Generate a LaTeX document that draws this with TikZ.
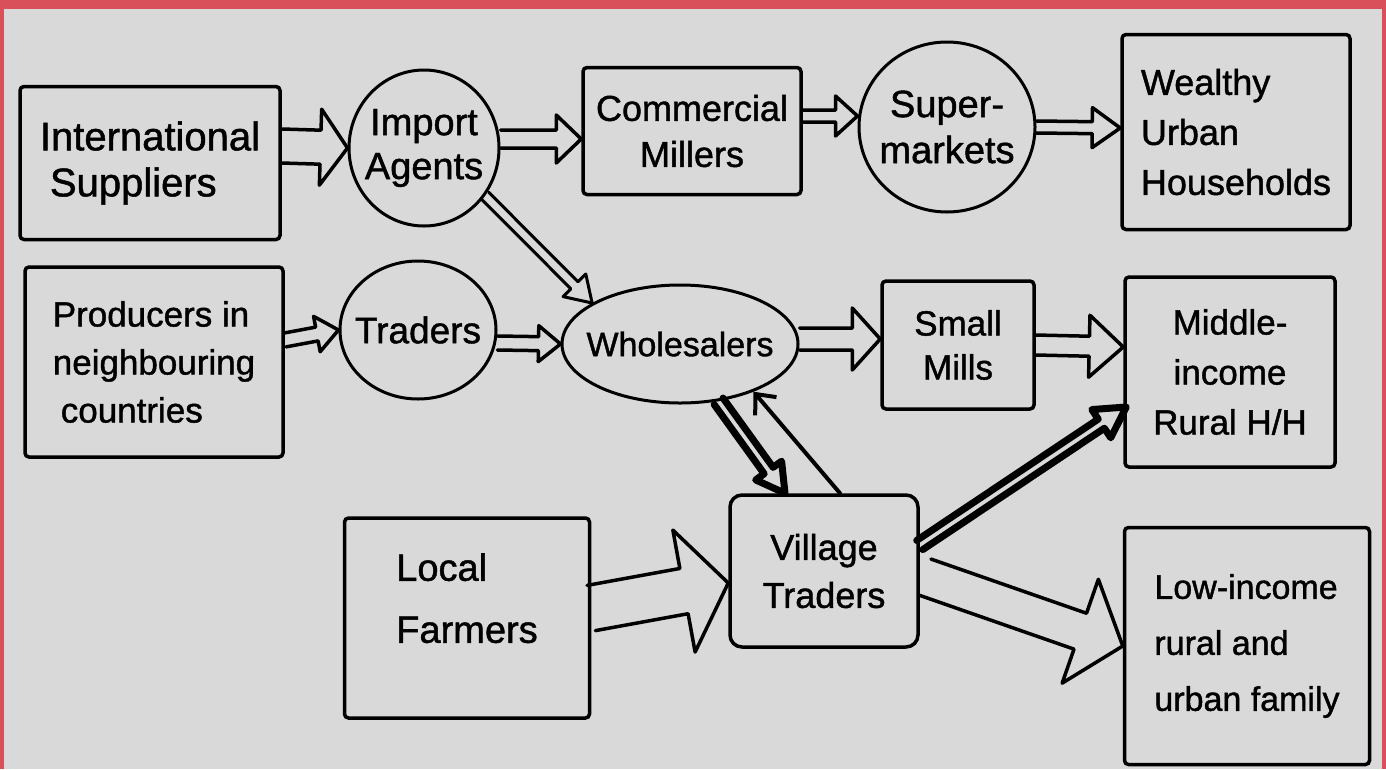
\documentclass[tikz,border=0pt]{standalone}
\usepackage{fontspec}
\setmainfont{Liberation Sans}[FakeBold=1.2]
\usetikzlibrary{calc,arrows.meta,shapes.geometric}
\definecolor{bgc}{RGB}{217,217,217}
\definecolor{redc}{RGB}{218,80,90}
\newcommand\fz[2]{\fontsize{#1}{#2}\selectfont}
% #2 start, #3 tip, #4 shaft half width, #5 head half width, #6 head length
\newcommand\blockarrow[6][]{%
  \coordinate (ba-s) at (#2);
  \coordinate (ba-e) at (#3);
  \coordinate (ba-p) at ($(ba-e)!#6!(ba-s)$);
  \draw[flow,#1] ($(ba-s)!#4!90:(ba-e)$) -- ($(ba-p)!#4!90:(ba-e)$) -- ($(ba-p)!#5!90:(ba-e)$) -- (ba-e) -- ($(ba-p)!#5!-90:(ba-e)$) -- ($(ba-p)!#4!-90:(ba-e)$) -- ($(ba-s)!#4!-90:(ba-e)$);
}
\tikzset{
  box/.style={draw, line width=3.5pt, rectangle, inner sep=0pt, rounded corners=4pt},
  ell/.style={draw, line width=3pt, ellipse, inner sep=-30pt},
  flow/.style={draw, line width=3.5pt, line join=round, line cap=round},
  heavy/.style={line width=7pt},
  single/.style={draw, line width=4pt, line cap=round, -{Straight Barb[length=16pt,width=28pt,line width=4pt]}}
}
\begin{document}
\begin{tikzpicture}[x=1pt,y=-1pt]
\useasboundingbox (0,0) rectangle (1386,769);
\fill[bgc] (0,0) rectangle (1386,769);
\fill[redc] (0,0) rectangle (1386,9);
\fill[redc] (0,0) rectangle (4,769);
\fill[redc] (1382,0) rectangle (1386,769);

% nodes
\node[box, minimum width=260pt, minimum height=153pt, align=left, font=\fz{40}{48}] (is) at (150,163) {International\\[-2pt]\hspace*{10pt}Suppliers};
\node[ell, minimum width=150pt, minimum height=156pt, align=center, font=\fz{38}{44}] (ia) at (424,148) {Import\\Agents};
\node[box, minimum width=218pt, minimum height=127pt, align=center, font=\fz{36}{46}] (cm) at (692,131) {Commercial\\Millers};
\node[ell, minimum width=176pt, minimum height=170pt, align=center, font=\fz{38}{46}] (sm) at (947,127) {Super-\\markets};
\node[box, minimum width=228pt, minimum height=195pt, align=left, font=\fz{36}{50}] (wu) at (1236,132) {Wealthy\\Urban\\Households};
\node[box, minimum width=258pt, minimum height=190pt, align=left, font=\fz{35}{48}] (pn) at (154,362) {Producers in\\neighbouring\\\hspace*{8pt}countries};
\node[ell, minimum width=156pt, minimum height=138pt, align=center, font=\fz{37}{42}] (tr) at (418,330) {Traders};
\node[ell, minimum width=236pt, minimum height=118pt, align=center, font=\fz{34}{40}] (wh) at (680,344) {Wholesalers};
\node[box, minimum width=152pt, minimum height=128pt, align=center, font=\fz{35}{44}] (smm) at (958,345) {Small\\Mills};
\node[box, minimum width=210pt, minimum height=190pt, align=center, font=\fz{35}{50}] (mi) at (1230,372) {Middle-\\income\\Rural H/H};
\node[box, minimum width=245pt, minimum height=200pt, align=left, font=\fz{38}{62}] (lf) at (467,618) {Local\\Farmers\\[-22pt]\mbox{}};
\node[box, minimum width=188pt, minimum height=152pt, align=center, rounded corners=12pt, font=\fz{36}{48}] (vt) at (824,571) {Village\\Traders};
\node[box, minimum width=245pt, minimum height=237pt, align=left, font=\fz{34}{56}] (li) at (1247,646) {Low-income\\rural and\\urban family};

% connectors
\blockarrow{$(is.east)+(0,-17)$}{ia.west}{17pt}{38pt}{27pt}
\blockarrow{$(ia.east)+(0,-9)$}{$(cm.west)+(0,8)$}{9pt}{24pt}{25pt}
\blockarrow{$(cm.east)+(0,-15)$}{$(sm.west)+(0,-11)$}{6pt}{20pt}{22pt}
\blockarrow{sm.east}{$(wu.west)+(0,-4)$}{6pt}{20pt}{28pt}
\blockarrow[line width=3pt]{ia.-38}{wh.155}{5pt}{16pt}{25pt}
\blockarrow{$(pn.east)+(0,-22)$}{tr.west}{7pt}{18pt}{22pt}
\blockarrow{$(tr.east)+(0,13)$}{wh.west}{7pt}{18pt}{22pt}
\blockarrow{$(wh.east)+(0,-5)$}{$(smm.west)+(0,-6)$}{11pt}{31pt}{28pt}
\blockarrow{smm.east}{$(mi.west)+(0,-25)$}{10pt}{31pt}{34pt}
\blockarrow{$(lf.east)+(0,-10)$}{$(vt.west)+(0,12)$}{23pt}{62pt}{45pt}
\blockarrow[heavy]{wh.-56}{$(vt.north)+(-39,0)$}{5.5pt}{16pt}{28pt}
\draw[single] ($(vt.north)+(16,0)$) -- (wh.-33);
\blockarrow[heavy]{$(vt.east)+(0,-26)$}{$(mi.west)+(3,35)$}{5.5pt}{17pt}{30pt}
\blockarrow{$(vt.east)+(5,6)$}{li.west}{19pt}{55pt}{45pt}
\end{tikzpicture}
\end{document}
